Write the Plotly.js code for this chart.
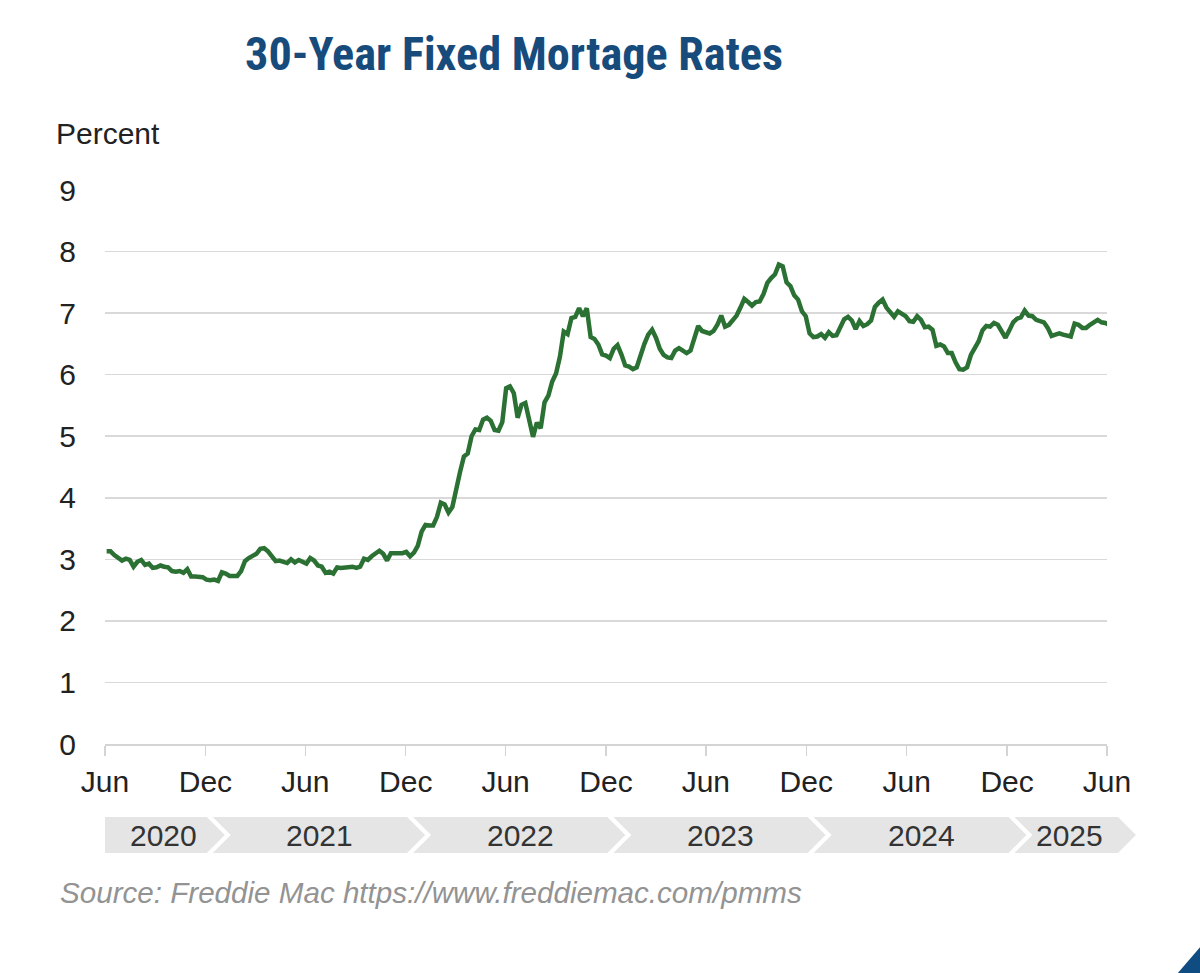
<!DOCTYPE html>
<html>
<head>
<meta charset="utf-8">
<script src="https://cdn.plot.ly/plotly-3.0.1.min.js"></script>
<style>
html,body{margin:0;padding:0;background:#ffffff;}
#chart{width:1200px;height:973px;}
</style>
</head>
<body>
<div id="chart"></div>
<script>
// ---- Data: weekly 30-year fixed mortgage rates (percent) ----
const start2020 = '2020-06-18';
const rates2020 = [3.13,3.13,3.07,3.03,2.98,3.01,2.99,2.88,2.96,2.99,2.91,2.93,2.86,2.87,2.90,2.88,2.87,2.81,2.80,2.81,2.78,2.84,2.72,2.72,2.71,2.71,2.67,2.66,2.67];
const start2021 = '2021-01-07';
const rates2021 = [2.65,2.79,2.77,2.73,2.73,2.73,2.81,2.97,3.02,3.05,3.09,3.17,3.18,3.13,3.04,2.97,2.98,2.96,2.94,3.00,2.95,2.99,2.96,2.93,3.02,2.98,2.90,2.88,2.78,2.80,2.77,2.87,2.86,2.87,2.87,2.88,2.86,2.88,3.01,2.99,3.05,3.09,3.14,3.09,2.98,3.10,3.10,3.11,3.10,3.12,3.05,3.11];
const start2022 = '2022-01-06';
const rates2022 = [3.22,3.45,3.56,3.55,3.55,3.69,3.92,3.89,3.76,3.85,4.16,4.42,4.67,4.72,5.00,5.11,5.10,5.27,5.30,5.25,5.10,5.09,5.23,5.78,5.81,5.70,5.30,5.51,5.54,5.30,4.99,5.22,5.13,5.55,5.66,5.89,6.02,6.29,6.70,6.66,6.92,6.94,7.08,6.95,7.08,6.61,6.58,6.49,6.33,6.31,6.27,6.42];
const start2023 = '2023-01-05';
const rates2023 = [6.48,6.33,6.15,6.13,6.09,6.12,6.32,6.50,6.65,6.73,6.60,6.42,6.32,6.28,6.27,6.39,6.43,6.39,6.35,6.39,6.57,6.79,6.71,6.69,6.67,6.71,6.81,6.96,6.78,6.81,6.90,6.96,7.09,7.23,7.18,7.12,7.18,7.19,7.31,7.49,7.57,7.63,7.79,7.76,7.50,7.44,7.29,7.22,7.03,6.95,6.67,6.61];
const start2024 = '2024-01-04';
const rates2024 = [6.62,6.66,6.60,6.69,6.63,6.64,6.77,6.90,6.94,6.88,6.74,6.87,6.79,6.82,6.88,7.10,7.17,7.22,7.09,7.02,6.94,7.03,6.99,6.95,6.87,6.86,6.95,6.89,6.77,6.78,6.73,6.47,6.49,6.46,6.35,6.35,6.20,6.09,6.08,6.12,6.32,6.44,6.54,6.72,6.79,6.78,6.84,6.81,6.69,6.60,6.72,6.85];
const start2025 = '2025-01-02';
const rates2025 = [6.91,6.93,7.04,6.96,6.95,6.89,6.87,6.85,6.76,6.63,6.65,6.67,6.65,6.64,6.62,6.83,6.81,6.76,6.76,6.81,6.86,6.89,6.85,6.84,6.81];

// ---- Axis labels ----
const xTickDates  = ['2020-06-15','2020-12-15','2021-06-15','2021-12-15','2022-06-15','2022-12-15','2023-06-15','2023-12-15','2024-06-15','2024-12-15','2025-06-15'];
const xTickLabels = ['Jun','Dec','Jun','Dec','Jun','Dec','Jun','Dec','Jun','Dec','Jun'];
const yTickVals   = [0,1,2,3,4,5,6,7,8,9];
const yearLabels  = ['2020','2021','2022','2023','2024','2025'];
const yearStarts  = ['2020-06-15','2021-01-01','2022-01-01','2023-01-01','2024-01-01','2025-01-01'];

const titleText  = '30-Year Fixed Mortage Rates';
const yUnitText  = 'Percent';
const sourceText = 'Source: Freddie Mac https://www.freddiemac.com/pmms';

// ---- Build weekly series ----
function weekly(startISO, vals){
  const t0 = Date.parse(startISO + 'T00:00:00Z');
  return vals.map((_, i) => new Date(t0 + i*7*86400000).toISOString().slice(0,10));
}
const xs = [].concat(
  weekly(start2020, rates2020), weekly(start2021, rates2021), weekly(start2022, rates2022),
  weekly(start2023, rates2023), weekly(start2024, rates2024), weekly(start2025, rates2025));
const ys = [].concat(rates2020, rates2021, rates2022, rates2023, rates2024, rates2025);

// ---- Layout geometry (pixels) ----
const W = 1200, H = 973;
const PL = 105, PR = 1107, PT = 190, PB = 744;
const pw = PR - PL, ph = PB - PT;
const px = p => (p - PL) / pw;
const py = p => (PB - p) / ph;
const xRange = [xTickDates[0], xTickDates[xTickDates.length-1]];
const t0 = Date.parse(xRange[0]), t1 = Date.parse(xRange[1]);
const dateToPx = d => PL + (Date.parse(d) - t0) / (t1 - t0) * pw;

// font detection
function hasFont(name){
  const c = document.createElement('canvas').getContext('2d');
  const s = 'abcdefghijklmnopqrstuvwxyz0123456789WMmwi';
  let diff = false;
  ['monospace','serif'].forEach(fb => {
    c.font = '40px ' + fb; const a = c.measureText(s).width;
    c.font = '40px "' + name + '",' + fb; const b = c.measureText(s).width;
    if (Math.abs(a-b) > 0.5) diff = true;
  });
  return diff;
}
const condCandidates = ['Liberation Sans Narrow','Roboto Condensed','DejaVu Sans Condensed','Liberation Sans'];
let titleFamily = 'Liberation Sans';
for (const f of condCandidates){ if (hasFont(f)) { titleFamily = f; break; } }
// fit title to target width
const titleTargetW = 538;
let titleSize = 40;
(function(){
  const c = document.createElement('canvas').getContext('2d');
  c.font = 'bold 40px "' + titleFamily + '"';
  const w = c.measureText(titleText).width;
  titleSize = Math.min(47, 40 * titleTargetW / w);
})();

const baseFont = 'Liberation Sans, Arial, Helvetica, sans-serif';

// ---- Year band shapes ----
const bandTop = 817, bandBot = 853, bandMid = 835;
const bounds = yearStarts.slice(1).map(dateToPx);
const labelShift = [4, 5, 5, 5, 5, 8];
const shapes = [];
const annotations = [];
for (let i = 0; i < yearLabels.length; i++){
  const L = i === 0 ? PL : bounds[i-1];
  const R = i < bounds.length ? bounds[i] : 1126;
  let pts = [];
  if (i === 0){ pts.push([L, bandTop]); }
  else { pts.push([L - 2, bandTop]); }
  pts.push([R - 8, bandTop]);
  pts.push([R + 10, bandMid]);
  pts.push([R - 8, bandBot]);
  if (i === 0){ pts.push([L, bandBot]); }
  else { pts.push([L - 2, bandBot]); pts.push([L + 16, bandMid]); }
  const path = 'M ' + pts.map(p => px(p[0]).toFixed(5) + ',' + py(p[1]).toFixed(5)).join(' L ') + ' Z';
  shapes.push({type:'path', xref:'paper', yref:'paper', path:path, fillcolor:'#e5e5e5', line:{width:0}, layer:'below'});
  const cx = (L + (i < bounds.length ? bounds[i] : PR)) / 2 + labelShift[i];
  annotations.push({xref:'paper', yref:'paper', x:px(cx), y:py(bandMid), xanchor:'center', yanchor:'middle',
    text:yearLabels[i], showarrow:false, font:{family:baseFont, size:30, color:'#333333'}});
}
// corner triangle
shapes.push({type:'path', xref:'paper', yref:'paper',
  path:'M ' + px(1177) + ',' + py(974) + ' L ' + px(1201) + ',' + py(974) + ' L ' + px(1201) + ',' + py(946) + ' Z',
  fillcolor:'#0f4c81', line:{width:0}});

annotations.push({xref:'paper', yref:'paper', x:px(54), y:py(134), xanchor:'left', yanchor:'middle',
  text:yUnitText, showarrow:false, font:{family:baseFont, size:30, color:'#222222'}});
annotations.push({xref:'paper', yref:'paper', x:px(58), y:py(892), xanchor:'left', yanchor:'middle',
  text:'<i>' + sourceText + '</i>', showarrow:false, font:{family:baseFont, size:29.6, color:'#939393'}});

const trace = {
  x: xs, y: ys, type:'scatter', mode:'lines',
  line:{color:'#2b7134', width:4.5}, hoverinfo:'x+y'
};

const layout = {
  width: W, height: H, autosize:false,
  paper_bgcolor:'#ffffff', plot_bgcolor:'#ffffff',
  margin:{l:PL, r:W-PR, t:PT, b:H-PB, pad:0},
  showlegend:false,
  title:{text:'<b>' + titleText + '</b>', xref:'container', yref:'container', x:514/W, y:1-54/H,
    xanchor:'center', yanchor:'middle', font:{family:titleFamily, size:titleSize, color:'#174b7b'}},
  xaxis:{type:'date', range:xRange, tickmode:'array', tickvals:xTickDates, ticktext:xTickLabels,
    showgrid:false, zeroline:false, showline:true, linecolor:'#d4d4d4', linewidth:2,
    ticks:'outside', ticklen:10, tickwidth:1.5, tickcolor:'#d4d4d4', ticklabelstandoff:0,
    tickfont:{family:baseFont, size:30, color:'#222222'}, fixedrange:true},
  yaxis:{range:[0,9], tickmode:'array', tickvals:yTickVals, showgrid:true, gridcolor:'#d9d9d9', gridwidth:1.5,
    zeroline:false, showline:false, ticks:'', ticklabelstandoff:28,
    tickfont:{family:baseFont, size:30, color:'#222222'}, fixedrange:true},
  shapes: shapes,
  annotations: annotations
};

Plotly.newPlot('chart', [trace], layout, {displayModeBar:false, staticPlot:true});
</script>
</body>
</html>
